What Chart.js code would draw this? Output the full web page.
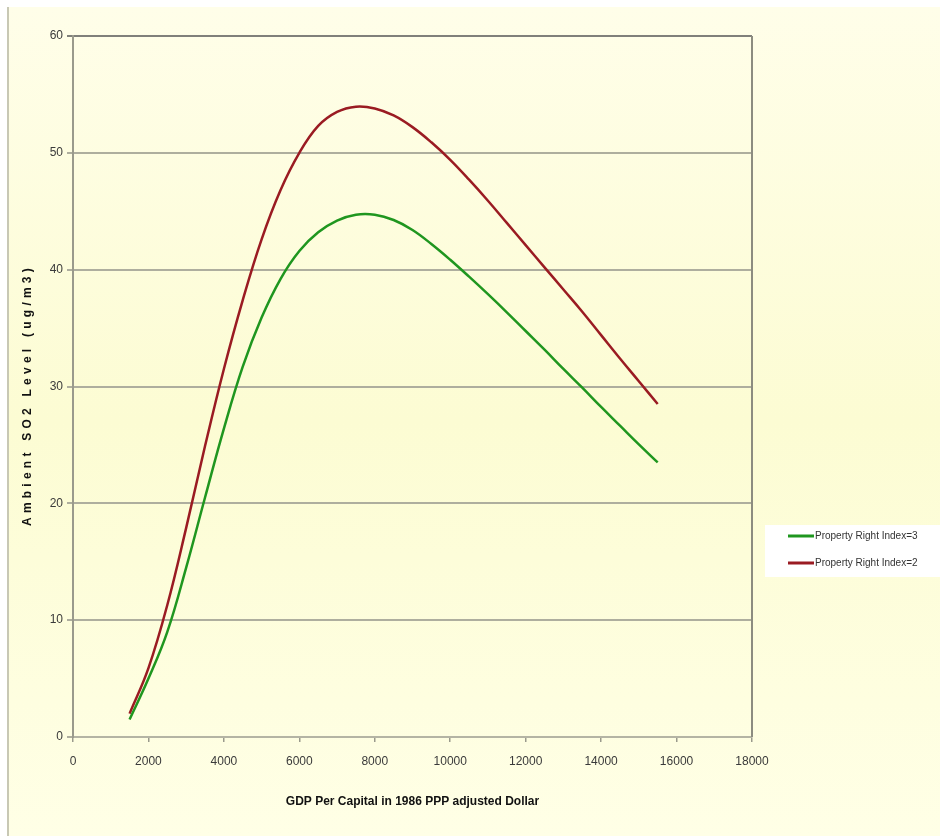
<!DOCTYPE html>
<html>
<head>
<meta charset="utf-8">
<script src="https://cdn.jsdelivr.net/npm/chart.js@4"></script>
<style>
html,body{margin:0;padding:0;background:#fff;}
#wrap{width:940px;height:836px;position:relative;}
</style>
</head>
<body>
<div id="wrap"><canvas id="so2Chart" width="940" height="836"></canvas></div>
<script>

/* ================= DATA ================= */
const gdp=[1500,2000,2500,3000,3500,4000,4500,5000,5500,6000,6500,7000,7500,8000,8500,9000,9500,10000,10500,11000,11500,12000,12500,13000,13500,14000,14500,15000,15500];

const pri3=[1.5,5.0,9.0,14.5,20.5,26.4,31.7,35.9,39.2,41.6,43.2,44.2,44.7,44.7,44.25,43.4,42.2,40.85,39.4,37.9,36.35,34.75,33.15,31.5,29.9,28.25,26.65,25.05,23.5];

const pri2=[2.0,5.9,11.3,17.9,24.9,31.5,37.4,42.6,46.8,50.0,52.3,53.5,53.95,53.8,53.2,52.2,50.9,49.4,47.7,45.9,44.0,42.1,40.2,38.3,36.4,34.4,32.4,30.45,28.5];

const seriesLabels=["Property Right Index=3","Property Right Index=2"];

const xTicks=[0,2000,4000,6000,8000,10000,12000,14000,16000,18000];
const yTicks=[0,10,20,30,40,50,60];

const GREEN="#1f961f";
const RED="#9a1b22";

const toPoints=(ys)=>gdp.map((x,i)=>({x:x,y:ys[i]}));

/* ================= BACKGROUND + EXTRAS ================= */
const frame={
id:"frame",
beforeDraw(chart){
const c=chart.ctx;
c.save();
c.fillStyle="#ffffff";
c.fillRect(0,0,940,836);

const g=c.createLinearGradient(0,7,0,836);
g.addColorStop(0,"#fffee9");
g.addColorStop(0.5,"#fcfcd3");
g.addColorStop(1,"#ffffe6");
c.fillStyle=g;
c.fillRect(8,7,932,829);

/* left edge line */
c.strokeStyle="#c8c8b4";
c.lineWidth=2;
c.beginPath();
c.moveTo(8,7);
c.lineTo(8,836);
c.stroke();
c.restore();
},
afterDraw(chart){
const c=chart.ctx;
const a=chart.chartArea;
c.save();

/* right border of plot */
c.strokeStyle="#8c8c80";
c.lineWidth=2;
c.beginPath();
c.moveTo(a.right,a.top);
c.lineTo(a.right,a.bottom);
c.stroke();

/* y title, letter spaced */
const t="Ambient SO2 Level (ug/m3)";
c.font="bold 12px 'Liberation Sans', Arial, sans-serif";
c.fillStyle="#111";
const natural=c.measureText(t).width;
c.letterSpacing=((262-natural)/t.length).toFixed(2)+"px";
c.translate(28,395);
c.rotate(-Math.PI/2);
c.textAlign="center";
c.textBaseline="middle";
c.fillText(t,0,0);
c.restore();

/* legend */
c.save();
c.fillStyle="#ffffff";
c.fillRect(765,525,175,52);
c.font="10px 'Liberation Sans Narrow', 'Liberation Sans', Arial, sans-serif";
c.textBaseline="middle";
c.textAlign="left";
chart.data.datasets.forEach((ds,i)=>{
const y=536+i*27;
c.strokeStyle=ds.borderColor;
c.lineWidth=3;
c.beginPath();
c.moveTo(788,y);
c.lineTo(814,y);
c.stroke();
c.fillStyle="#333";
c.fillText(ds.label,815,y);
});
c.restore();
}
};

/* ================= CHART ================= */
new Chart(
document.getElementById("so2Chart"),
{
type:"line",
data:{
datasets:[
{
label:seriesLabels[0],
data:toPoints(pri3),
borderColor:GREEN,
borderWidth:2.5,
pointRadius:0,
fill:false,
tension:0.4
},
{
label:seriesLabels[1],
data:toPoints(pri2),
borderColor:RED,
borderWidth:2.5,
pointRadius:0,
fill:false,
tension:0.4
}
]
},
options:{
responsive:false,
animation:false,
events:[],
layout:{
padding:{left:8,top:36,right:188,bottom:0}
},
plugins:{
legend:{display:false},
tooltip:{enabled:false}
},
scales:{
x:{
type:"linear",
min:0,
max:18000,
afterBuildTicks(scale){
scale.ticks=xTicks.map(v=>({value:v}));
},
afterFit(scale){
scale.height=99;
},
grid:{
drawOnChartArea:false,
drawTicks:true,
tickLength:5,
color:"#9a9a8c",
lineWidth:1.5
},
border:{
color:"#b4b4a4",
width:2
},
ticks:{
padding:12,
maxRotation:0,
autoSkip:false,
color:"#3a3a3a",
font:{family:"'Liberation Sans', Arial, sans-serif",size:12},
callback:(v)=>String(v)
},
title:{
display:true,
text:"GDP Per Capital in 1986 PPP adjusted Dollar",
color:"#111",
font:{family:"'Liberation Sans', Arial, sans-serif",size:12,weight:"bold"},
padding:{top:0,bottom:27}
}
},
y:{
min:0,
max:60,
afterBuildTicks(scale){
scale.ticks=yTicks.map(v=>({value:v}));
},
afterFit(scale){
scale.width=65;
},
grid:{
drawTicks:true,
tickLength:6,
color:(ctx)=>ctx.tick&&ctx.tick.value===60?"#80807a":"#aeae9e",
lineWidth:2
},
border:{
color:"#9a9a8c",
width:2
},
ticks:{
padding:4,
color:"#3a3a3a",
font:{family:"'Liberation Sans', Arial, sans-serif",size:12}
}
}
}
},
plugins:[frame]
}
);

</script>
</body>
</html>
